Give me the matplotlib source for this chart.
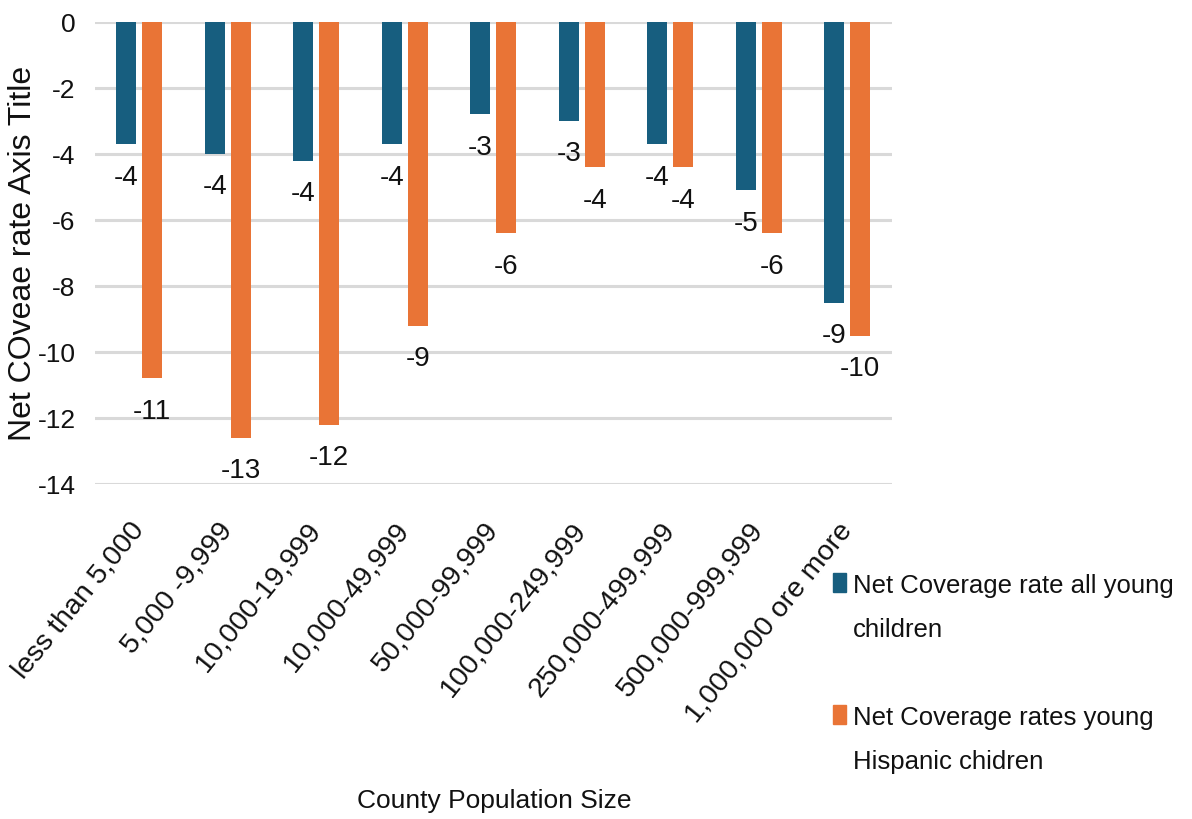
# grouped bar chart: net coverage rates by county population size
import numpy as np
import matplotlib
matplotlib.use('Agg')
import matplotlib.pyplot as plt
from matplotlib.patches import Rectangle

plt.rcParams['font.family'] = ['Liberation Sans', 'DejaVu Sans']
plt.rcParams['axes.unicode_minus'] = False

# data
categories = ['less than 5,000', '5,000 -9,999', '10,000-19,999', '10,000-49,999',
              '50,000-99,999', '100,000-249,999', '250,000-499,999',
              '500,000-999,999', '1,000,000 ore more']
all_young = [-3.7, -4.0, -4.2, -3.7, -2.8, -3.0, -3.7, -5.1, -8.5]
hispanic = [-10.8, -12.6, -12.2, -9.2, -6.4, -4.4, -4.4, -6.4, -9.5]
series_names = [['Net Coverage rate all young', 'children'],
                ['Net Coverage rates young', 'Hispanic chidren']]
colors = ['#175e7f', '#e97436']
txt = '#111111'

def excel_round(v):
    # round half away from zero, like the data labels
    return int(np.sign(v) * np.floor(abs(v) + 0.5))

fig = plt.figure(figsize=(11.92, 8.19), dpi=100)
ax = fig.add_axes([0.0797, 0.409, 0.6683, 0.564])

x = np.arange(len(categories))
w = 0.225
off = 0.147
for vals, dx, c in zip([all_young, hispanic], [-off, off], colors):
    bars = ax.bar(x + dx, vals, width=w, color=c, zorder=3)
    for b, v in zip(bars, vals):
        ax.annotate(str(excel_round(v)), (b.get_x() + b.get_width() / 2, v),
                    xytext=(0, -24), textcoords='offset points',
                    ha='center', va='center', fontsize=20, color=txt)

ax.set_xlim(-0.5, len(categories) - 0.5)
ax.set_ylim(-14, 0)
ax.set_yticks(np.arange(-14, 1, 2))
ax.grid(axis='y', color='#d9d9d9', linewidth=2.2, zorder=0)
for s in ax.spines.values():
    s.set_visible(False)
ax.tick_params(axis='both', length=0, labelsize=19, colors=txt)
ax.tick_params(axis='y', pad=14)
ax.set_xticks(x)
ax.set_xticklabels(categories, rotation=51, ha='right', va='center',
                   rotation_mode='anchor', fontsize=20.5)
ax.tick_params(axis='x', pad=30)

ax.set_ylabel('Net COveae rate Axis Title', fontsize=23, color=txt)
ax.yaxis.set_label_coords(-0.072, 0.5)
fig.text(0.415, 0.0134, 'County Population Size', ha='center', va='baseline',
         fontsize=19, color=txt)

# legend drawn by hand so the swatch sits on the first line
sw_y = [0.2772, 0.116]
base_y = [[0.276, 0.222], [0.1148, 0.061]]
for c, lines, sy, by in zip(colors, series_names, sw_y, base_y):
    fig.add_artist(Rectangle((0.6988, sy), 0.0109, 0.0232,
                             transform=fig.transFigure, color=c))
    for line, yy in zip(lines, by):
        fig.text(0.7156, yy, line, ha='left', va='baseline', fontsize=18.5, color=txt)

fig.savefig('out.png', dpi=100)
